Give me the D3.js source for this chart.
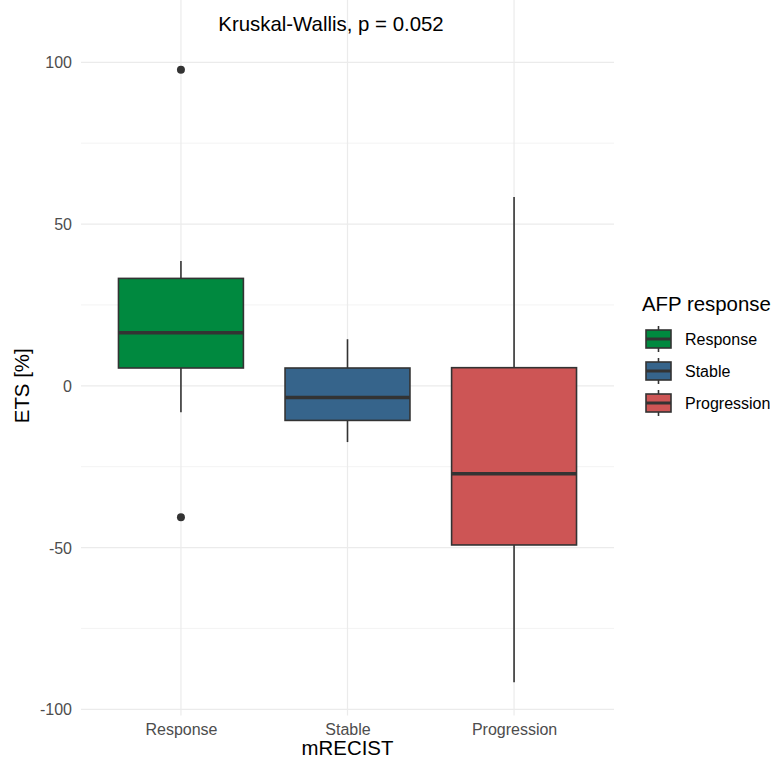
<!DOCTYPE html>
<html>
<head>
<meta charset="utf-8">
<script src="https://cdn.jsdelivr.net/npm/d3@7"></script>
<style>
  html, body { margin: 0; padding: 0; background: #fff; }
  svg { display: block; font-family: "Liberation Sans", Arial, Helvetica, sans-serif; }
</style>
</head>
<body>
<svg id="chart" width="774" height="762"></svg>
<script>
// ---- data ----
const categories = ["Response", "Stable", "Progression"];
const colors = ["#00893F", "#36648B", "#CD5555"];
const whiskerLow = [-8.2, -17.4, -91.6];
const q1 = [5.5, -10.7, -49.2];
const median = [16.4, -3.6, -27.2];
const q3 = [33.2, 5.5, 5.6];
const whiskerHigh = [38.6, 14.4, 58.4];
const outliers = [[97.7, -40.6], [], []];
const majorTicks = [-100, -50, 0, 50, 100];
const minorTicks = [-75, -25, 25, 75];
const annotation = "Kruskal-Wallis, p = 0.052";
const xTitle = "mRECIST";
const yTitle = "ETS [%]";
const legendTitle = "AFP response";

// ---- layout ----
const svg = d3.select("#chart");
const panel = { left: 81, right: 614 };
const x = d3.scalePoint().domain(categories).range([panel.left, panel.right]).padding(0.6);
const step = x.step();
const y = d3.scaleLinear().domain([-100, 100]).range([709.3, 62.3]);
const yTop = y(124.7), yBottom = y(-101.9);
const ink = "#333333";
const FONT = "Liberation Sans, Arial, sans-serif";
const TICK = 16, TITLE = 20.4;

const grid = svg.append("g");
grid.selectAll("line.minor").data(minorTicks).join("line")
  .attr("x1", panel.left).attr("x2", panel.right)
  .attr("y1", d => y(d)).attr("y2", d => y(d))
  .attr("stroke", "#EBEBEB").attr("stroke-width", 0.6);
grid.selectAll("line.major").data(majorTicks).join("line")
  .attr("x1", panel.left).attr("x2", panel.right)
  .attr("y1", d => y(d)).attr("y2", d => y(d))
  .attr("stroke", "#EBEBEB").attr("stroke-width", 1.2);
grid.selectAll("line.vmajor").data(categories).join("line")
  .attr("x1", d => x(d)).attr("x2", d => x(d))
  .attr("y1", yTop).attr("y2", yBottom)
  .attr("stroke", "#EBEBEB").attr("stroke-width", 1.2);

// axes (labels only, theme_minimal)
const yAxis = d3.axisLeft(y).tickValues(majorTicks).tickSize(0).tickPadding(0).tickFormat(d => String(d));
const gy = svg.append("g").attr("transform", `translate(${panel.left - 9},0)`).call(yAxis);
gy.select(".domain").remove();
gy.selectAll("text").attr("fill", "#4D4D4D").attr("font-size", TICK).attr("dy", "0.35em")
  .attr("font-family", FONT);

const xAxis = d3.axisBottom(x).tickSize(0).tickPadding(0);
const gx = svg.append("g").attr("transform", `translate(0,${yBottom + 8})`).call(xAxis);
gx.select(".domain").remove();
gx.selectAll("text").attr("fill", "#4D4D4D").attr("font-size", TICK).attr("dy", "0.71em")
  .attr("font-family", FONT);

// boxes
const boxW = step * 0.75;
const boxes = svg.append("g");
categories.forEach((c, i) => {
  const cx = x(c);
  const g = boxes.append("g");
  g.append("line").attr("x1", cx).attr("x2", cx).attr("y1", y(whiskerHigh[i])).attr("y2", y(q3[i]))
    .attr("stroke", ink).attr("stroke-width", 1.6);
  g.append("line").attr("x1", cx).attr("x2", cx).attr("y1", y(q1[i])).attr("y2", y(whiskerLow[i]))
    .attr("stroke", ink).attr("stroke-width", 1.6);
  g.append("rect").attr("x", cx - boxW / 2).attr("width", boxW)
    .attr("y", y(q3[i])).attr("height", y(q1[i]) - y(q3[i]))
    .attr("fill", colors[i]).attr("stroke", ink).attr("stroke-width", 1.6);
  g.append("line").attr("x1", cx - boxW / 2).attr("x2", cx + boxW / 2)
    .attr("y1", y(median[i])).attr("y2", y(median[i]))
    .attr("stroke", ink).attr("stroke-width", 3.4);
  g.selectAll("circle").data(outliers[i]).join("circle")
    .attr("cx", cx).attr("cy", d => y(d)).attr("r", 4).attr("fill", ink);
});

// annotation
svg.append("text").attr("x", 331).attr("y", 31).attr("text-anchor", "middle")
  .attr("font-size", TITLE).attr("fill", "#000").text(annotation);

// axis titles
svg.append("text").attr("x", (panel.left + panel.right) / 2).attr("y", 755)
  .attr("text-anchor", "middle").attr("font-size", TITLE).attr("fill", "#000").text(xTitle);
svg.append("text").attr("transform", `translate(29,${y(0)}) rotate(-90)`)
  .attr("text-anchor", "middle").attr("font-size", TITLE).attr("fill", "#000").text(yTitle);

// legend
const leg = svg.append("g").attr("transform", "translate(642,0)");
leg.append("text").attr("x", 0).attr("y", 311).attr("font-size", TITLE).attr("fill", "#000").text(legendTitle);
const keyY = d3.scalePoint().domain(categories).range([339, 403]);
categories.forEach((c, i) => {
  const cy = keyY(c);
  const kx = 4, kw = 25, kcx = kx + kw / 2;
  leg.append("line").attr("x1", kcx).attr("x2", kcx).attr("y1", cy - 13).attr("y2", cy + 13)
    .attr("stroke", ink).attr("stroke-width", 1.6);
  leg.append("rect").attr("x", kx).attr("y", cy - 9).attr("width", kw).attr("height", 18)
    .attr("fill", colors[i]).attr("stroke", ink).attr("stroke-width", 1.6);
  leg.append("line").attr("x1", kx).attr("x2", kx + kw).attr("y1", cy).attr("y2", cy)
    .attr("stroke", ink).attr("stroke-width", 3);
  leg.append("text").attr("x", 43).attr("y", cy).attr("dy", "0.35em")
    .attr("font-size", TICK).attr("fill", "#000").text(c);
});
</script>
</body>
</html>
